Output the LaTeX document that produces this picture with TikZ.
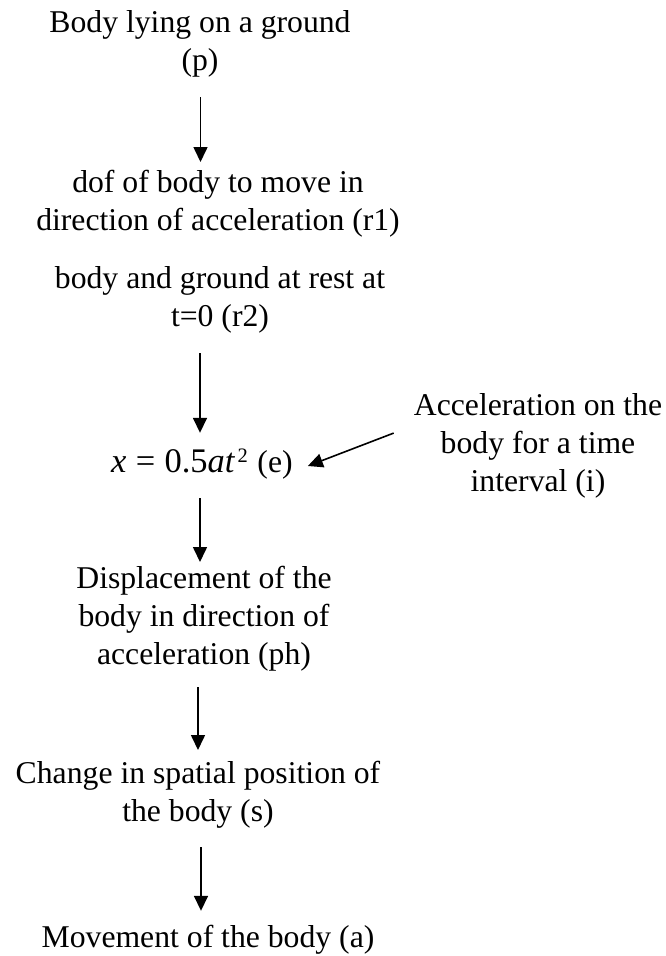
\documentclass[tikz,border=0pt]{standalone}
\usepackage{fontspec}
\setmainfont{Liberation Serif}
\newfontfamily\eqfont{Liberation Serif}
\usetikzlibrary{arrows.meta}
\newcommand\myTopStrut{\rule{0pt}{24pt}}
\newcommand\myEq{{\fontsize{34.5}{38}\selectfont\eqfont\textit{x}\hspace{0.27em}=\hspace{0.27em}0.5\textit{at}\raisebox{10pt}{\fontsize{20.5}{20}\selectfont\hspace{0.12em}2}}}
\begin{document}
\begin{tikzpicture}[x=1pt,y=-1pt,
  txt/.style={inner sep=0pt, align=center, font=\fontsize{31.7}{38}\selectfont, anchor=north},
  oneline/.style={inner sep=0pt, font=\fontsize{31.7}{38}\selectfont, text height=24pt, text depth=8pt},
  arr/.style={-{Triangle[length=15pt,width=14pt]}, line width=1.6pt}]
\useasboundingbox (0,0) rectangle (666,956);

\node[txt] (p) at (200,8) {\myTopStrut Body lying on a ground\\(p)};
\node[txt] (r1) at (218,168) {\myTopStrut dof of body to move in\\direction of acceleration (r1)};
\node[txt] (r2) at (220,264) {\myTopStrut body and ground at rest at\\t=0 (r2)};
\node[oneline, anchor=base west] (e) at (111,472) {\myEq\hspace{0.3em}(e)};
\node[txt] (i) at (538,391) {\myTopStrut Acceleration on the\\body for a time\\interval (i)};
\node[txt] (ph) at (204,564) {\myTopStrut Displacement of the\\body in direction of\\acceleration (ph)};
\node[txt] (s) at (198,759) {\myTopStrut Change in spatial position of\\the body (s)};
\node[oneline, anchor=base] (a) at (208,947) {Movement of the body (a)};

\coordinate (x1) at (200.5,0);
\coordinate (x2) at (200,0);
\coordinate (x3) at (200,0);
\coordinate (x4) at (198,0);
\coordinate (x5) at (201,0);

\draw[arr, shorten <=20pt, shorten >=6pt] (p.south -| x1) -- (r1.north -| x1);
\draw[arr, shorten <=20pt, shorten >=15pt] (r2.south -| x2) -- (e.north -| x2);
\draw[arr, shorten <=18pt, shorten >=2pt] (e.south -| x3) -- (ph.north -| x3);
\draw[arr, shorten <=16pt, shorten >=9pt] (ph.south -| x4) -- (s.north -| x4);
\draw[arr, shorten <=19pt, shorten >=12pt] (s.south -| x5) -- (a.north -| x5);
\draw[arr] ([shift={(-20,-11.5)}]i.west) -- ([shift={(15,2)}]e.east);
\end{tikzpicture}
\end{document}
